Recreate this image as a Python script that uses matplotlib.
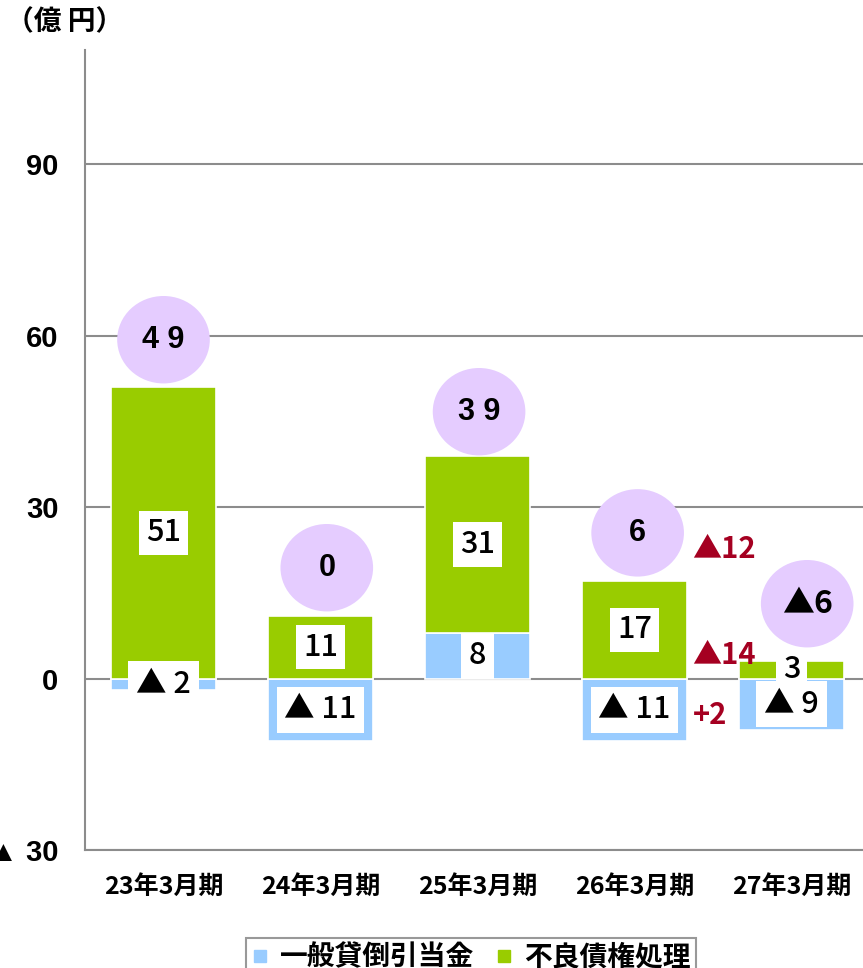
import matplotlib
matplotlib.use("Agg")
import matplotlib.pyplot as plt
from matplotlib.patches import Ellipse
from matplotlib.lines import Line2D

# ---- data ----
categories = ['23年3月期', '24年3月期', '25年3月期', '26年3月期', '27年3月期']
general_allowance = [-2, -11, 8, -11, -9]      # 一般貸倒引当金
bad_debt = [51, 11, 31, 17, 3]                 # 不良債権処理
series_names = ['一般貸倒引当金', '不良債権処理']
y_ticks = [-30, 0, 30, 60, 90]
y_tick_labels = ['▲ 30', '0', '30', '60', '90']
unit_label = '（億 円）'

# ---- styles ----
BLUE = '#99CCFF'
GREEN = '#99CC00'
PURPLE = '#E5CCFF'
RED = '#A50021'
GRID = '#8C8C8C'
NUM_FONT = ['Liberation Sans', 'DejaVu Sans']
JP_FONT = ['Noto Sans CJK JP', 'DejaVu Sans']

def tri(v, sep=' '):
    return ('▲' + sep + str(abs(v))) if v < 0 else str(v)

fig = plt.figure(figsize=(8.63, 9.68), dpi=100)
ax = fig.add_axes([85 / 863, 1 - 850 / 968, 785 / 863, 800 / 968])
ax.set_xlim(-0.5, 4.5)
ax.set_ylim(-30, 110)

x = list(range(len(categories)))
bw = 0.67
green_bottom = [max(g, 0) for g in general_allowance]
green_top = [b + v for b, v in zip(green_bottom, bad_debt)]

ax.bar(x, general_allowance, width=bw, color=BLUE, edgecolor='white', linewidth=1.2, zorder=2)
ax.bar(x, bad_debt, bottom=green_bottom, width=bw, color=GREEN, edgecolor='white', linewidth=1.2, zorder=2)

# labels inside bars
for i in x:
    gy = green_bottom[i] + bad_debt[i] / 2
    ax.text(i, gy, tri(bad_debt[i]), ha='center', va='center', fontsize=22,
            family=JP_FONT, fontweight='medium', zorder=4,
            bbox=dict(boxstyle='square,pad=0.22', fc='white', ec='none'))
    by = general_allowance[i] / 2
    ax.text(i, by, tri(general_allowance[i]), ha='center', va='center', fontsize=22,
            family=JP_FONT, fontweight='medium', zorder=4,
            bbox=dict(boxstyle='square,pad=0.25', fc='white', ec='none'))

# totals in ellipses
totals = [g + b for g, b in zip(general_allowance, bad_debt)]
ell_dx = [0.0, 0.04, 0.01, 0.02, 0.10]
ell_dy = [8.3, 8.4, 7.7, 8.5, 10.1]
for i in x:
    cx, cy = i + ell_dx[i], green_top[i] + ell_dy[i]
    ax.add_patch(Ellipse((cx, cy), width=0.59, height=15.3, color=PURPLE, zorder=3, lw=0))
    t = totals[i]
    if t >= 10:
        s, fam, fs = ' '.join(str(t)), NUM_FONT, 22
    elif t < 0:
        s, fam, fs = tri(t, sep=''), JP_FONT, 23
    else:
        s, fam, fs = str(t), NUM_FONT, 22
    ax.text(cx, cy, s, ha='center', va='center', fontsize=fs, family=fam,
            fontweight='bold', zorder=4)

# year-on-year changes (last vs previous)
chg_total = totals[-1] - totals[-2]
chg_green = bad_debt[-1] - bad_debt[-2]
chg_blue = general_allowance[-1] - general_allowance[-2]
def fmt_chg(v):
    return ('▲' + str(abs(v))) if v < 0 else ('+' + str(v))
chg_x = 3.37
for v, yy in [(chg_total, 22.6), (chg_green, 4.2), (chg_blue, -6.3)]:
    ax.text(chg_x, yy, fmt_chg(v), ha='left', va='center', fontsize=21,
            family=JP_FONT, fontweight='bold', color=RED, zorder=4)

# axes styling
ax.set_yticks(y_ticks)
ax.set_yticklabels(y_tick_labels, family=NUM_FONT, fontweight='bold', fontsize=21)
ax.set_xticks(x)
ax.set_xticklabels(categories, family=JP_FONT, fontweight='bold', fontsize=18)
ax.tick_params(axis='y', length=0, pad=19)
ax.tick_params(axis='x', length=0, pad=18)
ax.grid(axis='y', color=GRID, linewidth=1.5)
ax.set_axisbelow(True)
for s in ['top', 'right']:
    ax.spines[s].set_visible(False)
for s in ['left', 'bottom']:
    ax.spines[s].set_color(GRID)
    ax.spines[s].set_linewidth(1.5)

fig.text(6 / 863, 1 - 22 / 968, unit_label, ha='left', va='center', fontsize=20,
         family=JP_FONT, fontweight='bold')

handles = [Line2D([], [], marker='s', linestyle='none', markersize=9,
                  markerfacecolor=BLUE, markeredgecolor=BLUE),
           Line2D([], [], marker='s', linestyle='none', markersize=9,
                  markerfacecolor=GREEN, markeredgecolor=GREEN)]
leg = fig.legend(handles, series_names, loc='upper center',
                 bbox_to_anchor=(471 / 863, 1 - 924 / 968), ncol=2,
                 frameon=True, fancybox=False, edgecolor='#808080',
                 prop={'family': JP_FONT, 'weight': 'bold', 'size': 20},
                 handlelength=0.6, handletextpad=0.4, columnspacing=0.8,
                 borderpad=0.2)
leg.get_frame().set_linewidth(1.5)

fig.savefig('out.png', dpi=100)
